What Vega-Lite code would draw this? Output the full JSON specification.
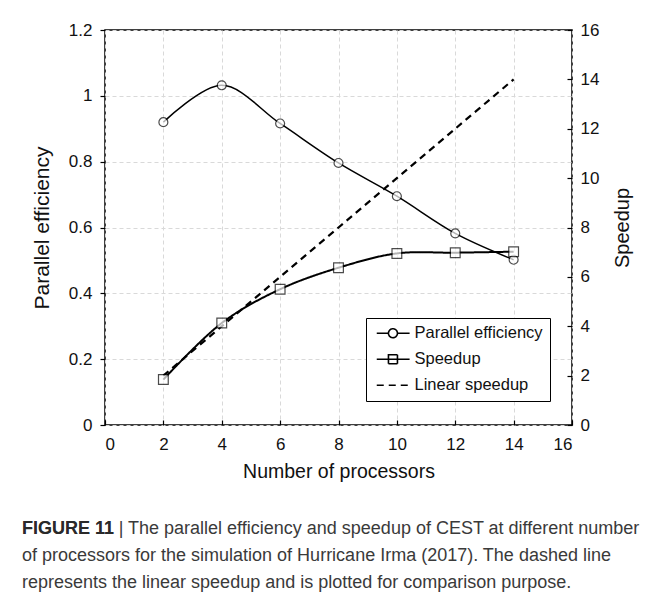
{
  "$schema": "https://vega.github.io/schema/vega-lite/v6.json",
  "width": 467,
  "height": 395,
  "autosize": "none",
  "padding": {"left": 105, "top": 30, "right": 82, "bottom": 171},
  "background": "white",
  "config": {
    "font": "Liberation Sans",
    "view": {"stroke": "#000", "strokeWidth": 1.5},
    "axis": {
      "domain": false,
      "labelFont": "Liberation Sans",
      "labelFontSize": 17,
      "labelColor": "#111",
      "titleFont": "Liberation Sans",
      "titleFontSize": 19.5,
      "titleFontWeight": "normal",
      "titleColor": "#111",
      "tickColor": "#000",
      "tickWidth": 1.2,
      "gridColor": "#d9d9d9",
      "gridDash": [4, 3],
      "gridWidth": 1,
      "format": "~g"
    }
  },
  "data": {
    "values": [
      {"n": 2, "series": "Parallel efficiency", "value": 0.92},
      {"n": 4, "series": "Parallel efficiency", "value": 1.032},
      {"n": 6, "series": "Parallel efficiency", "value": 0.916},
      {"n": 8, "series": "Parallel efficiency", "value": 0.796},
      {"n": 10, "series": "Parallel efficiency", "value": 0.695},
      {"n": 12, "series": "Parallel efficiency", "value": 0.582},
      {"n": 14, "series": "Parallel efficiency", "value": 0.502},
      {"n": 2, "series": "Speedup", "value": 1.84},
      {"n": 4, "series": "Speedup", "value": 4.13},
      {"n": 6, "series": "Speedup", "value": 5.5},
      {"n": 8, "series": "Speedup", "value": 6.37},
      {"n": 10, "series": "Speedup", "value": 6.95},
      {"n": 12, "series": "Speedup", "value": 6.98},
      {"n": 14, "series": "Speedup", "value": 7.02},
      {"n": 2, "series": "Linear speedup", "value": 2},
      {"n": 4, "series": "Linear speedup", "value": 4},
      {"n": 6, "series": "Linear speedup", "value": 6},
      {"n": 8, "series": "Linear speedup", "value": 8},
      {"n": 10, "series": "Linear speedup", "value": 10},
      {"n": 12, "series": "Linear speedup", "value": 12},
      {"n": 14, "series": "Linear speedup", "value": 14}
    ]
  },
  "title": {
    "text": [
      "FIGURE 11 | The parallel efficiency and speedup of CEST at different number",
      "of processors for the simulation of Hurricane Irma (2017). The dashed line",
      "represents the linear speedup and is plotted for comparison purpose."
    ],
    "subtitle": "FIGURE 11",
    "orient": "bottom",
    "anchor": "start",
    "frame": "group",
    "dx": -83,
    "offset": 39,
    "font": "Liberation Sans",
    "fontSize": 18,
    "fontWeight": "normal",
    "color": "#3a3a3a",
    "lineHeight": 27,
    "subtitleFont": "Liberation Sans",
    "subtitleFontSize": 18,
    "subtitleFontWeight": "bold",
    "subtitleColor": "#2a2a2a",
    "subtitlePadding": -72
  },
  "encoding": {
    "x": {
      "field": "n",
      "type": "quantitative",
      "scale": {"domain": [0, 16], "nice": false},
      "axis": {
        "title": "Number of processors",
        "values": [0, 2, 4, 6, 8, 10, 12, 14, 16],
        "grid": true,
        "tickSize": -5,
        "labelPadding": 16,
        "titlePadding": 10
      }
    }
  },
  "layer": [
    {
      "transform": [{"filter": "datum.series === 'Parallel efficiency'"}],
      "encoding": {
        "y": {
          "field": "value",
          "type": "quantitative",
          "scale": {"domain": [0, 1.2], "nice": false},
          "axis": {
            "title": "Parallel efficiency",
            "titleFontSize": 21,
            "orient": "left",
            "values": [0, 0.2, 0.4, 0.6, 0.8, 1, 1.2],
            "grid": true,
            "tickSize": 5,
            "labelPadding": 8,
            "titlePadding": 16
          }
        }
      },
      "layer": [
        {
          "mark": {"type": "line", "interpolate": "catmull-rom", "color": "#000", "strokeWidth": 1.5}
        },
        {
          "mark": {"type": "point", "shape": "circle", "size": 80, "filled": true, "fill": "white", "stroke": "#000", "strokeWidth": 1.2}
        }
      ]
    },
    {
      "transform": [{"filter": "datum.series !== 'Parallel efficiency'"}],
      "encoding": {
        "y": {
          "field": "value",
          "type": "quantitative",
          "scale": {"domain": [0, 16], "nice": false},
          "axis": {
            "title": "Speedup",
            "titleAngle": 270,
            "titleFontSize": 20,
            "orient": "right",
            "values": [0, 2, 4, 6, 8, 10, 12, 14, 16],
            "grid": false,
            "tickSize": -5,
            "labelPadding": 13,
            "titlePadding": 34
          }
        }
      },
      "layer": [
        {
          "mark": {"type": "line", "interpolate": "catmull-rom", "color": "#000"},
          "encoding": {
            "strokeWidth": {
              "field": "series",
              "type": "nominal",
              "scale": {"domain": ["Speedup", "Linear speedup"], "range": [2, 2.2]},
              "legend": null
            },
            "strokeDash": {
              "field": "series",
              "type": "nominal",
              "scale": {"domain": ["Parallel efficiency", "Speedup", "Linear speedup"], "range": [[1, 0], [1, 0], [7, 5]]},
              "legend": {
                "title": null,
                "orient": "none",
                "legendX": 261,
                "legendY": 288,
                "strokeColor": "#000",
                "fillColor": "white",
                "padding": 7,
                "labelFont": "Liberation Sans",
                "labelFontSize": 16.5,
                "labelColor": "#111",
                "labelOffset": 25,
                "rowPadding": 9,
                "symbolSize": 81,
                "symbolStrokeWidth": 1.6,
                "symbolStrokeColor": "#000",
                "symbolType": "M-1,0H6.3",
                "encode": {
                  "symbols": {
                    "update": {
                      "shape": {"signal": "datum.value === 'Parallel efficiency' ? 'M-1,0H1.6M3.6,0H6.3M3.6,0A1,1 0 1,1 1.6,0A1,1 0 1,1 3.6,0Z' : datum.value === 'Speedup' ? 'M-1,0H6.3M1.6,-1H3.6V1H1.6Z' : 'M-1,0H6.3'"}
                    }
                  }
                }
              }
            }
          }
        },
        {
          "transform": [{"filter": "datum.series === 'Speedup'"}],
          "mark": {"type": "point", "shape": "square", "size": 95, "filled": true, "fill": "white", "stroke": "#000", "strokeWidth": 1.2}
        }
      ]
    }
  ],
  "resolve": {"scale": {"y": "independent"}}
}
